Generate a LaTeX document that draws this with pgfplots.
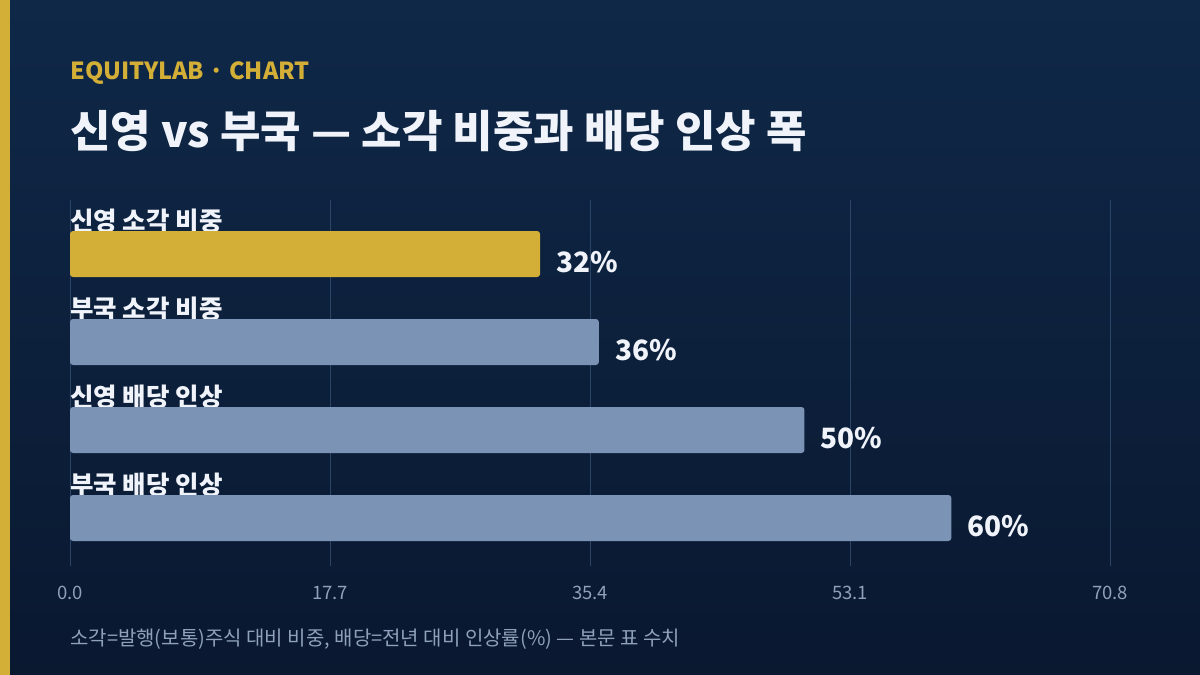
\documentclass[border=0pt]{standalone}
\usepackage{fontspec}
\setmainfont{Noto Sans CJK KR}
\usepackage{pgfplots}
\pgfplotsset{compat=1.18}
\definecolor{bgtop}{HTML}{0F2848}
\definecolor{bgbot}{HTML}{0A1830}
\definecolor{gold}{HTML}{D4AF37}
\definecolor{barblue}{HTML}{7B93B5}
\definecolor{txtw}{HTML}{F0F4FA}
\definecolor{tickc}{HTML}{8FA0BA}
\definecolor{gridc}{HTML}{2B4566}
\begin{document}
\begin{tikzpicture}[x=1pt,y=1pt]
\shade[top color=bgtop,bottom color=bgbot] (0pt,0pt) rectangle (1200pt,675pt);
\fill[gold] (0pt,0pt) rectangle (10pt,675pt);
\node[anchor=base west,inner sep=0,text=gold,font=\fontsize{23.5}{28}\selectfont\bfseries] at (70pt,595pt) {EQUITYLAB · CHART};
\node[anchor=base west,inner sep=0,text=txtw,font=\fontsize{44}{52}\selectfont\bfseries] at (70pt,527pt) {신영 vs 부국 — 소각 비중과 배당 인상 폭};
\node[anchor=base west,inner sep=0,text=tickc,font=\fontsize{20}{24}\selectfont] at (70pt,30pt) {소각=발행(보통)주식 대비 비중, 배당=전년 대비 인상률(\%) — 본문 표 수치};
\begin{axis}[
  at={(70pt,109pt)}, anchor=south west,
  scale only axis, width=1040pt, height=366pt,
  xmin=0, xmax=70.8, ymin=-0.6136, ymax=3.5455, y dir=reverse,
  axis line style={draw=none},
  major tick length=0pt,
  xtick={0,17.7,35.4,53.1,70.8},
  xticklabel style={font=\fontsize{18.5}{22}\selectfont, text=tickc, anchor=base, inner sep=0pt, yshift=-33pt},
  xticklabel={\pgfmathprintnumber[fixed,fixed zerofill,precision=1]{\tick}},
  /pgf/number format/assume math mode=true,
  xmajorgrids, major grid style={gridc, line width=0.8pt},
  ytick={0,1,2,3},
  yticklabels={신영 소각 비중,부국 소각 비중,신영 배당 인상,부국 배당 인상},
  yticklabel style={font=\fontsize{25.5}{30}\selectfont\bfseries, text=txtw, anchor=base west, inner sep=0pt, yshift=24pt},
  xbar, bar width=46pt, bar shift=0pt,
  nodes near coords={\pgfmathprintnumber{\pgfplotspointmeta}\%},
  point meta=x,
  nodes near coords style={font=\fontsize{28}{32}\selectfont\bfseries, text=txtw, anchor=base west, inner sep=0pt, xshift=16pt, yshift=-18pt},
  clip=false,
]
\addplot[fill=gold, draw=none, rounded corners=3pt] coordinates {(32,0)};
\addplot[fill=barblue, draw=none, rounded corners=3pt] coordinates {(36,1) (50,2) (60,3)};
\end{axis}
\end{tikzpicture}
\end{document}
